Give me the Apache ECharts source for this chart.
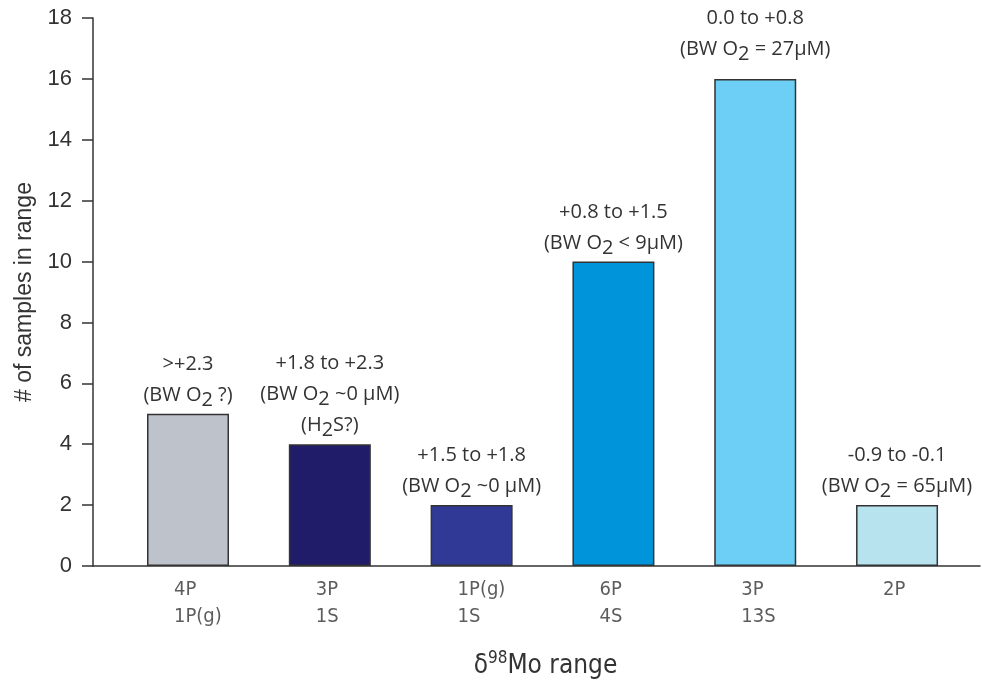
<!DOCTYPE html>
<html>
<head>
<meta charset="utf-8">
<script src="https://cdn.jsdelivr.net/npm/echarts@6/dist/echarts.min.js"></script>
<style>
html,body{margin:0;padding:0;background:#fff;}
#chart{width:982px;height:681px;}
</style>
</head>
<body>
<div id="chart"></div>
<script>
// ---- data ----
var categories = ['4P\n1P(g)', '3P\n1S', '1P(g)\n1S', '6P\n4S', '3P\n13S', '2P'];
var counts = [5, 4, 2, 10, 16, 2];
var annotations = [
  '>+2.3\n(BW O{s|2} ?)',
  '+1.8 to +2.3\n(BW O{s|2} ~0 µM)\n(H{s|2}S?)',
  '+1.5 to +1.8\n(BW O{s|2} ~0 µM)',
  '+0.8 to +1.5\n(BW O{s|2} < 9µM)',
  '0.0 to +0.8\n(BW O{s|2} = 27µM)',
  '-0.9 to -0.1\n(BW O{s|2} = 65µM)'
];
var barColors = ['#bec3cb', '#211c6a', '#313996', '#0095da', '#6dcff6', '#b7e3ee'];
var yTicks = [0, 2, 4, 6, 8, 10, 12, 14, 16, 18];
var yAxisTitle = '# of samples in range';
var xAxisTitle = 'δ{sup|98}Mo range';

// style only: label gap above each bar
var labelGap = [3, 3, 3, 3, 14, 3];

var annoFont = '"Open Sans", "Noto Sans", sans-serif';
var condFont = '"Liberation Sans Narrow", "DejaVu Sans Condensed", "Roboto", sans-serif';

var chart = echarts.init(document.getElementById('chart'), null, {renderer: 'canvas'});
chart.setOption({
  animation: false,
  backgroundColor: '#ffffff',
  grid: {left: 93, right: 2, top: 18, bottom: 115, containLabel: false, outerBoundsMode: 'none'},
  xAxis: {
    type: 'value',
    min: -0.67, max: 5.585,
    axisLine: {show: true, onZero: false, lineStyle: {color: '#333', width: 1.5}},
    axisTick: {show: false},
    axisLabel: {show: false},
    splitLine: {show: false},
    name: xAxisTitle,
    nameLocation: 'middle',
    nameGap: 84,
    nameTextStyle: {
      fontFamily: condFont, fontSize: 26, color: '#333',
      padding: [0, 0, 0, 18],
      rich: {sup: {fontFamily: condFont, fontSize: 17, color: '#333', padding: [0, 0, 15, 0]}}
    }
  },
  yAxis: {
    type: 'value',
    min: 0, max: 18, interval: 2,
    axisLine: {show: true, onZero: false, lineStyle: {color: '#333', width: 1.5}},
    axisTick: {show: true, inside: false, length: 11, lineStyle: {color: '#333', width: 1.5}},
    axisLabel: {
      margin: 21, fontFamily: '"Liberation Sans", Arial, sans-serif', fontSize: 22, color: '#333',
      formatter: function (v) { return yTicks.indexOf(v) >= 0 ? String(v) : ''; }
    },
    splitLine: {show: false},
    name: yAxisTitle,
    nameLocation: 'middle',
    nameGap: 56,
    nameTextStyle: {fontFamily: '"Liberation Sans", Arial, sans-serif', fontSize: 23, color: '#333'}
  },
  series: [
    {
      type: 'bar',
      barWidth: 82,
      data: counts.map(function (v, i) {
        return {value: [i, v], itemStyle: {color: barColors[i]}, label: {distance: labelGap[i]}};
      }),
      itemStyle: {borderColor: '#333', borderWidth: 1.5},
      label: {
        show: true,
        position: 'top',
        distance: 3,
        fontFamily: annoFont,
        fontSize: 20,
        lineHeight: 31,
        color: '#333',
        align: 'center',
        formatter: function (p) { return annotations[p.dataIndex]; },
        rich: {
          s: {fontFamily: annoFont, fontSize: 20, color: '#333', padding: [10, 0, 0, 0], lineHeight: 31}
        }
      }
    },
    {
      type: 'scatter',
      symbolSize: 0,
      silent: true,
      data: categories.map(function (c, i) { return [i, 0]; }),
      label: {
        show: true,
        position: 'bottom',
        distance: 10,
        align: 'left',
        offset: [-14, 0],
        fontFamily: condFont,
        fontSize: 20,
        lineHeight: 27,
        color: '#333',
        formatter: function (p) { return categories[p.dataIndex]; }
      }
    }
  ]
});
</script>
</body>
</html>
